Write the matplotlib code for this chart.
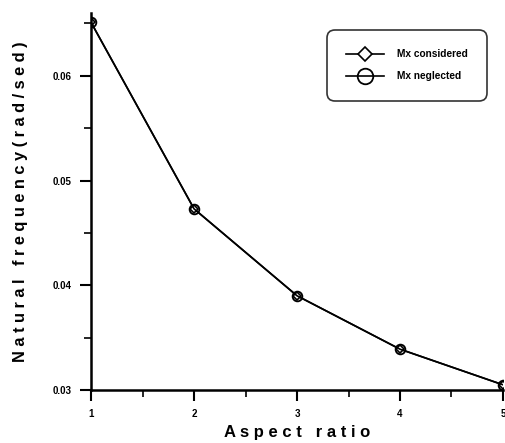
import matplotlib
matplotlib.use("Agg")
import matplotlib.pyplot as plt
from matplotlib.ticker import MultipleLocator

plt.rcParams['font.family'] = ['Liberation Sans', 'DejaVu Sans']

aspect = [1, 2, 3, 4, 5]
freq_considered = [0.0651, 0.0473, 0.0390, 0.0339, 0.0305]
freq_neglected = [0.0651, 0.0473, 0.0390, 0.0339, 0.0305]

fig = plt.figure(figsize=(5.06, 4.43), dpi=100)
ax = fig.add_axes([0.18, 0.1196, 0.814, 0.851])

ax.plot(aspect, freq_considered, color='black', lw=1.2, marker='D', ms=4.5,
        mfc='white', mec='black', mew=1.2, label='Mx considered')
ax.plot(aspect, freq_neglected, color='black', lw=1.2, marker='o', ms=7,
        mfc='none', mec='black', mew=1.3, label='Mx neglected')

ax.set_xlim(1, 5)
ax.set_ylim(0.03, 0.066)
ax.xaxis.set_major_locator(MultipleLocator(1))
ax.xaxis.set_minor_locator(MultipleLocator(0.5))
ax.yaxis.set_major_locator(MultipleLocator(0.01))
ax.yaxis.set_minor_locator(MultipleLocator(0.005))
ax.xaxis.set_major_formatter(plt.FuncFormatter(lambda v, p: '%d' % v))
ax.yaxis.set_major_formatter(plt.FuncFormatter(lambda v, p: '%.2f' % v))

for s in ['top', 'right']:
    ax.spines[s].set_visible(False)
for s in ['left', 'bottom']:
    ax.spines[s].set_linewidth(1.8)

ax.tick_params(which='major', length=8, width=1.5, labelsize=7, direction='out', pad=6)
ax.tick_params(which='minor', length=5, width=1.2, direction='out')
for lab in ax.get_xticklabels() + ax.get_yticklabels():
    lab.set_fontweight('bold')

ax.set_xlabel('A s p e c t   r a t i o', fontsize=12, fontweight='bold', labelpad=4)
ax.set_ylabel('N a t u r a l   f r e q u e n c y ( r a d / s e d )', fontsize=11.8,
              fontweight='bold', labelpad=18)

leg = ax.legend(loc='upper right', bbox_to_anchor=(0.961, 0.955), frameon=True,
                fancybox=True, edgecolor='black', prop={'size': 7.3, 'weight': 'bold'},
                borderpad=1.9, labelspacing=1.2, handlelength=3.7, handletextpad=1.3,
                markerscale=1.6, borderaxespad=0)
leg.get_frame().set_linewidth(1.2)
leg.get_frame().set_boxstyle('round', pad=0, rounding_size=0.8)

fig.savefig('out.png', dpi=100)
